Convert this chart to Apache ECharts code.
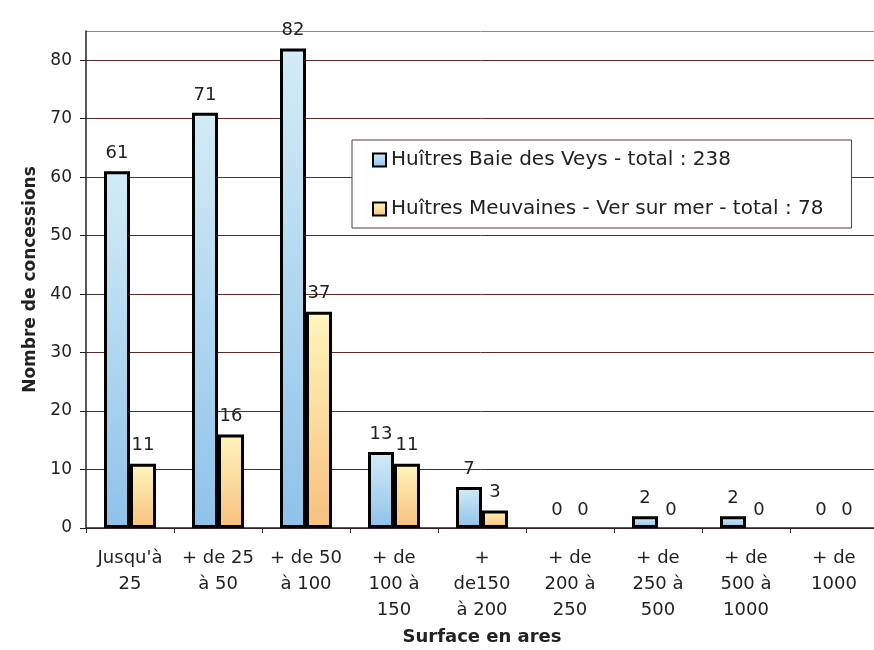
<!DOCTYPE html>
<html>
<head>
<meta charset="utf-8">
<script src="https://cdn.jsdelivr.net/npm/echarts@6/dist/echarts.min.js"></script>
<style>
  html, body { margin: 0; padding: 0; background: #ffffff; }
  #chart { width: 874px; height: 650px; }
</style>
</head>
<body>
<div id="chart"></div>
<script>
// Surface classes (ares)
const categories = [
  "Jusqu'à\n25", "+ de 25\nà 50", "+ de 50\nà 100", "+ de\n100 à\n150",
  "+\nde150\nà 200", "+ de\n200 à\n250", "+ de\n250 à\n500", "+ de\n500 à\n1000", "+ de\n1000"
];
// Number of concessions per class
const baieDesVeys = [61, 71, 82, 13, 7, 0, 2, 2, 0];
const meuvaines = [11, 16, 37, 11, 3, 0, 0, 0, 0];
const seriesNames = [
  "Huîtres Baie des Veys - total : 238",
  "Huîtres Meuvaines - Ver sur mer - total : 78"
];
const yTicks = { min: 0, max: 85, interval: 10 };

const font = "'DejaVu Sans', Verdana, sans-serif";

function grad(top, bottom) {
  return new echarts.graphic.LinearGradient(0, 0, 0, 1, [
    { offset: 0, color: top },
    { offset: 1, color: bottom }
  ]);
}

// Empty classes keep their value label but draw no outline
function toItems(values) {
  return values.map(v => v === 0 ? { value: v, itemStyle: { borderWidth: 0 } } : v);
}

const gridColors = [];
for (let i = 0; i < 9; i++) gridColors.push('#5e2a2a');
gridColors.push('#8a8a8a');

const labelStyle = {
  show: true,
  position: 'top',
  distance: 9,
  fontFamily: font,
  fontSize: 18,
  color: '#222'
};

const chart = echarts.init(document.getElementById('chart'), null, { renderer: 'canvas' });
chart.setOption({
  animation: false,
  backgroundColor: '#ffffff',
  textStyle: { fontFamily: font },
  grid: { left: 86, right: -4, top: 31, bottom: 122, outerBoundsMode: 'none', containLabel: false },
  legend: {
    orient: 'vertical',
    left: 352,
    top: 140,
    padding: [10, 28, 9, 20],
    itemGap: 29,
    itemWidth: 13,
    itemHeight: 13,
    icon: 'rect',
    backgroundColor: '#ffffff',
    borderColor: '#5a3a3a',
    borderWidth: 1,
    textStyle: { fontFamily: font, fontSize: 20, color: '#222' },
    itemStyle: { borderColor: '#000', borderWidth: 2 },
    data: seriesNames
  },
  xAxis: {
    type: 'category',
    data: categories,
    name: 'Surface en ares',
    nameLocation: 'middle',
    nameGap: 98,
    nameTextStyle: { fontFamily: font, fontSize: 18, fontWeight: 'bold', color: '#222' },
    axisLine: { lineStyle: { color: '#222', width: 1.5 } },
    axisTick: { show: true, length: 5, lineStyle: { color: '#222' } },
    axisLabel: { fontFamily: font, fontSize: 18, color: '#222', lineHeight: 26, margin: 17, interval: 0 }
  },
  yAxis: {
    type: 'value',
    min: yTicks.min,
    max: yTicks.max,
    interval: yTicks.interval,
    name: 'Nombre de concessions',
    nameLocation: 'middle',
    nameGap: 47,
    nameTextStyle: { fontFamily: font, fontSize: 17, fontWeight: 'bold', color: '#222' },
    axisLine: { show: true, lineStyle: { color: '#222', width: 1.5 } },
    axisTick: { show: true, length: 6, lineStyle: { color: '#222' } },
    axisLabel: { fontFamily: font, fontSize: 17, color: '#222', margin: 14, showMaxLabel: false },
    splitLine: { show: true, lineStyle: { color: gridColors, width: 1 } }
  },
  series: [
    {
      name: seriesNames[0],
      type: 'bar',
      data: toItems(baieDesVeys),
      barWidth: 26,
      barGap: '0%',
      itemStyle: { color: grad('#d3ecf6', '#8ec2ea'), borderColor: '#000', borderWidth: 3 },
      label: labelStyle
    },
    {
      name: seriesNames[1],
      type: 'bar',
      data: toItems(meuvaines),
      barWidth: 26,
      barGap: '0%',
      itemStyle: { color: grad('#fff5bd', '#f8c07e'), borderColor: '#000', borderWidth: 3 },
      label: labelStyle
    }
  ]
});
</script>
</body>
</html>
